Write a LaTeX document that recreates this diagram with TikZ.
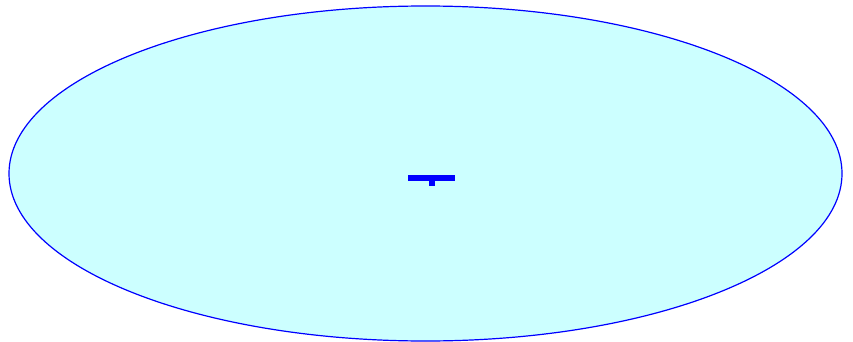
\documentclass[tikz,border=0pt]{standalone}
\usetikzlibrary{shapes.geometric}
\definecolor{fillc}{HTML}{CCFFFF}
\definecolor{linec}{HTML}{0000FF}
\begin{document}
\begin{tikzpicture}[x=1pt,y=-1pt,
  ell/.style={draw=linec,fill=fillc,line width=1.2pt},
  glyph/.style={fill=linec,draw=none}]
\useasboundingbox (0,0) rectangle (853,342);
\node[ell,shape=ellipse,minimum width=833pt,minimum height=335pt,inner sep=0pt] (e) at (425.5,173.5) {};
\fill[glyph] (408,174.5) rectangle (455,180.5);
\fill[glyph] (429,180.5) rectangle (435,185.5);
\end{tikzpicture}
\end{document}
